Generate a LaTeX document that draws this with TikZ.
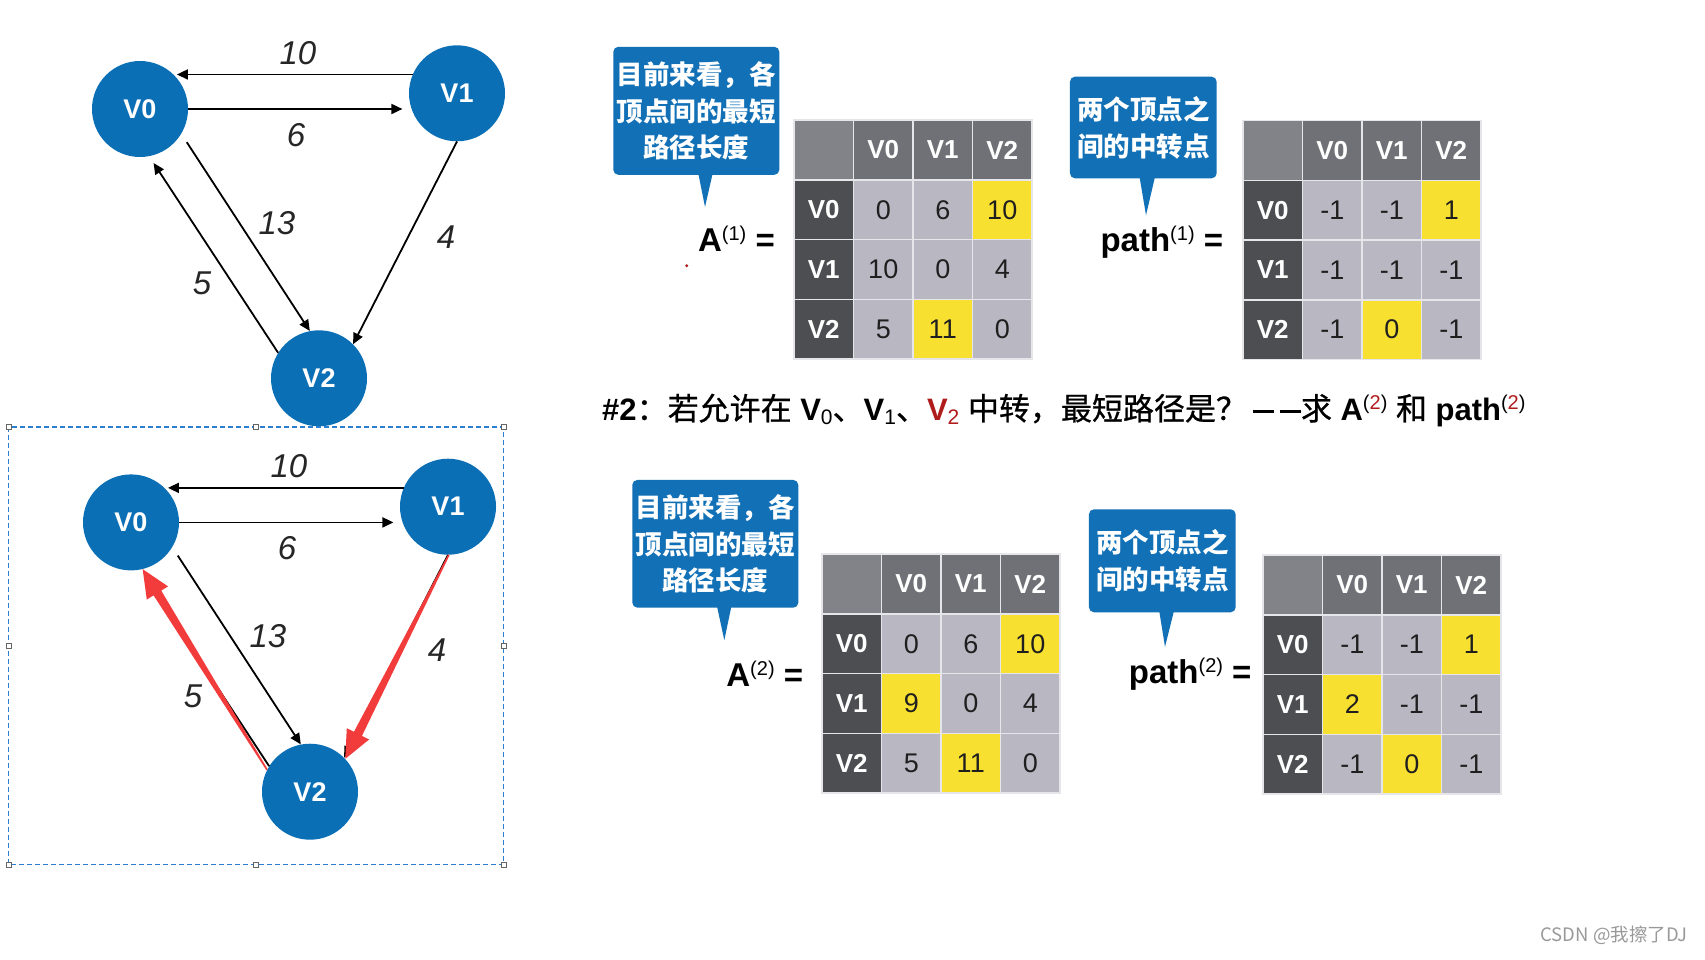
\documentclass[tikz,border=0pt]{standalone}
\usepackage{fontspec}
\setmainfont{Liberation Sans}
\newfontfamily\zh{Noto Sans CJK SC}
\newfontfamily\zhsb{Noto Sans CJK SC}[FakeBold=0.8]
\usetikzlibrary{calc,arrows.meta}
\definecolor{nodeblue}{HTML}{0B6FB6}
\definecolor{callblue}{HTML}{1170B6}
\definecolor{tcor}{HTML}{818388}
\definecolor{thd}{HTML}{707176}
\definecolor{trw}{HTML}{4D4E52}
\definecolor{cb}{HTML}{B9B8C2}
\definecolor{cy}{HTML}{F8E030}
\definecolor{tline}{HTML}{E6E6EA}
\definecolor{dred}{HTML}{B01C1C}
\definecolor{ared}{HTML}{F23C3C}
\definecolor{selblue}{HTML}{2A7FD0}
\newcommand{\supr}[1]{\raisebox{11pt}{\fontsize{20}{20}\selectfont\mdseries #1}}
\newcommand{\supm}[1]{\raisebox{11pt}{\fontsize{20}{20}\selectfont\mdseries #1}}
\newcommand{\subm}[1]{\raisebox{-4pt}{\fontsize{21}{21}\selectfont\mdseries #1}}
\newcommand{\dashbar}{\rule[7pt]{21pt}{3.5pt}}
\newcommand{\zq}[1]{{\zhsb\mdseries #1}}
\newcommand{\drawgraph}[3]{%
\begin{scope}[shift={(#2,#3)}]
 \node[vnode] (#1V0) at (140,109) {V0};
 \node[vnode] (#1V1) at (457,93.3) {V1};
 \node[vnode] (#1V2) at (319,378.3) {V2};
 \draw[edge] (#1V1.157) -- (#1V0.40 |- #1V1.157);
 \draw[edge, shorten >=9pt] (#1V0.east) -- (#1V1.199 |- #1V0.east);
 \draw[edge, shorten <=10pt] (#1V0.-31) -- (#1V2.101);
 \draw[edge, shorten >=8pt] (#1V2.148) -- (#1V0.-79);
 \draw[edge] (#1V1.-90) -- (#1V2.45);
 \node[elabel] (#1L10) at (298,53) {10};
 \node[elabel] (#1L6) at (296,135) {6};
 \node[elabel] (#1L13) at (277,223) {13};
 \node[elabel] (#1L5) at (202,283) {5};
 \node[elabel] (#1L4) at (446,237) {4};
\end{scope}}
\newcommand{\dtable}[4]{%
 \node[tcell, fill=tcor] (#1c) at ({#2+29.75},{#3+30}) {};
 \foreach \h [count=\j] in {V0,V1,V2}
   \node[thead] (#1h\j) at ({#2+29.75+59.5*\j},{#3+30}) {\h};
 \foreach \r/\a/\fa/\b/\fb/\c/\fc [count=\i] in {#4} {
   \node[trow] (#1r\i) at ({#2+29.75},{#3+30+59.7*\i}) {\r};
   \node[tcell,fill=\fa] (#1-\i-1) at ({#2+29.75+59.5},{#3+30+59.7*\i}) {\a};
   \node[tcell,fill=\fb] (#1-\i-2) at ({#2+29.75+119},{#3+30+59.7*\i}) {\b};
   \node[tcell,fill=\fc] (#1-\i-3) at ({#2+29.75+178.5},{#3+30+59.7*\i}) {\c};
 }}
\newcommand{\redarrow}[2]{%
 \fill[ared] ($(#1)!0.8pt!90:(#2)$) -- ($($(#2)!28pt!(#1)$)!4.5pt!90:(#2)$)
   -- ($($(#2)!28pt!(#1)$)!12.5pt!90:(#2)$) -- (#2)
   -- ($($(#2)!28pt!(#1)$)!12.5pt!-90:(#2)$) -- ($($(#2)!28pt!(#1)$)!4.5pt!-90:(#2)$)
   -- ($(#1)!0.8pt!-90:(#2)$) -- cycle;}
\begin{document}
\begin{tikzpicture}[x=1pt,y=-1pt,
  vnode/.style={circle, fill=nodeblue, minimum size=96pt, inner sep=0pt, text=white, font=\fontsize{27}{27}\selectfont\bfseries},
  edge/.style={line width=1.8pt, -{Triangle[length=11pt,width=10pt]}},
  elabel/.style={font=\fontsize{33}{33}\selectfont\itshape, text=black!85, inner sep=0pt},
  tcell/.style={minimum width=59.5pt, minimum height=59.7pt, draw=tline, line width=1.5pt, inner sep=0pt, text=black!88, font=\fontsize{27}{27}\selectfont},
  thead/.style={tcell, fill=thd, text=white, font=\fontsize{26}{26}\selectfont\bfseries},
  trow/.style={tcell, fill=trw, text=white, font=\fontsize{26}{26}\selectfont\bfseries},
  callout/.style={fill=callblue, rounded corners=5pt, text=white, align=center, inner sep=0pt, font=\zh\bfseries\fontsize{26.5}{36.7}\selectfont},
  lbl/.style={inner sep=0pt, font=\fontsize{33}{33}\selectfont\bfseries},
  handle/.style={draw=black!60, fill=white, line width=0.8pt}
]
\useasboundingbox (0,0) rectangle (1705,959);
\fill[white] (0,0) rectangle (1705,959);

% graphs
\drawgraph{a}{0}{0}
\drawgraph{b}{-9}{413.4}
\redarrow{bV2.153}{bV0.-76}
\redarrow{bV1.-89}{bV2.43}

% selection rectangle
\draw[selblue, line width=1.1pt, dash pattern=on 5pt off 3pt] (8.6,427) rectangle (503.5,864.5);
\foreach \p in {(8.6,427),(256,427),(503.5,427),(8.6,645.7),(503.5,645.7),(8.6,864.5),(256,864.5),(503.5,864.5)}
  \draw[handle] \p ++(-2.5,-2.5) rectangle ++(5,5);

% callouts
\node[callout, minimum width=166pt, minimum height=128pt] (c1) at (696.3,110.8) {目前来看，各\\顶点间的最短\\路径长度};
\fill[callblue] ($(c1.south)+(1.7,-3)$) -- ($(c1.south)+(16.7,-3)$) -- ($(c1.south)+(8.7,31.9)$) -- cycle;
\node[callout, minimum width=146.7pt, minimum height=101.6pt] (c2) at (1143.3,127.5) {两个顶点之\\间的中转点};
\fill[callblue] ($(c2.south)+(-4,-3)$) -- ($(c2.south)+(12,-3)$) -- ($(c2.south)+(2.7,36.7)$) -- cycle;
\node[callout, minimum width=166pt, minimum height=127.7pt] (c3) at (715.3,543.8) {目前来看，各\\顶点间的最短\\路径长度};
\fill[callblue] ($(c3.south)+(1.4,-3)$) -- ($(c3.south)+(16.4,-3)$) -- ($(c3.south)+(9,32.3)$) -- cycle;
\node[callout, minimum width=146.7pt, minimum height=103pt] (c4) at (1162.3,560.8) {两个顶点之\\间的中转点};
\fill[callblue] ($(c4.south)+(-3.3,-3)$) -- ($(c4.south)+(12,-3)$) -- ($(c4.south)+(2.7,34.4)$) -- cycle;

% labels
\node[lbl, anchor=base east] (la1) at (775,251.7) {A\supr{(1)} =};
\fill[dred] (686.7,265.7) circle (1.6);
\node[lbl, anchor=base east] (lp1) at (1223.3,251.7) {path\supr{(1)} =};
\node[lbl, anchor=base east] (la2) at (803.3,686) {A\supr{(2)} =};
\node[lbl, anchor=base east] (lp2) at (1251.7,683.3) {path\supr{(2)} =};

% tables
\dtable{A}{794}{120}{V0/0/cb/6/cb/10/cy, V1/10/cb/0/cb/4/cb, V2/5/cb/11/cy/0/cb}
\dtable{P}{1243}{120.5}{V0/-1/cb/-1/cb/1/cy, V1/-1/cb/-1/cb/-1/cb, V2/-1/cb/0/cy/-1/cb}
\dtable{B}{822}{554}{V0/0/cb/6/cb/10/cy, V1/9/cy/0/cb/4/cb, V2/5/cb/11/cy/0/cb}
\dtable{Q}{1263}{555}{V0/-1/cb/-1/cb/1/cy, V1/2/cy/-1/cb/-1/cb, V2/-1/cb/0/cy/-1/cb}

% question line
\node[anchor=base west, inner sep=0pt, font=\fontsize{31}{34}\selectfont\bfseries] (q2) at (602,420)
 {\#2\zq{：若允许在} V\subm{0}\zq{、}V\subm{1}\zq{、}\textcolor{dred}{V\subm{2}} \zq{中转，最短路径是？}\hspace{6pt}\dashbar\hspace{6pt}\dashbar\zq{求} A\supm{(\textcolor{dred}{2})} \zq{和} path\supm{(\textcolor{dred}{2})}};

% watermark
\node[anchor=east, inner sep=0pt, text=black!40, font=\zh\fontsize{18.5}{18.5}\selectfont] (wm) at (1688,935) {CSDN @我擦了DJ};
\end{tikzpicture}
\end{document}
